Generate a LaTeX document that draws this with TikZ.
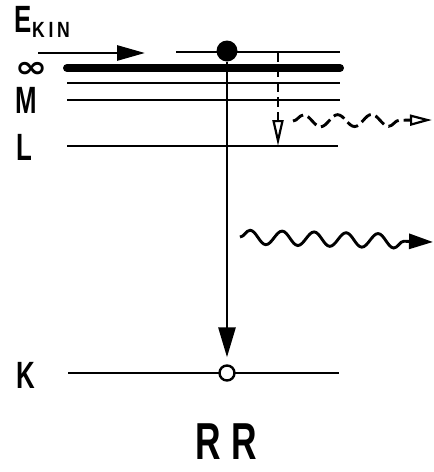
\documentclass[tikz,border=0pt]{standalone}
\usepackage{fontspec}
\usepackage{graphicx}
\setmainfont{Liberation Sans}[FakeStretch=0.68]
\newfontfamily\subfont{Liberation Sans}[FakeStretch=0.8]
\newfontfamily\symfont{DejaVu Sans}
\usetikzlibrary{arrows.meta,decorations.pathmorphing}
\begin{document}
\begin{tikzpicture}[x=1pt,y=-1pt,
  level/.style={line width=2.9pt},
  biglbl/.style={font=\bfseries\fontsize{38}{38}\selectfont, inner sep=0pt, anchor=base},
  wavy/.style={line width=2.9pt, decorate, decoration={snake, amplitude=7pt, segment length=32pt, post length=14pt}},
  ]
\useasboundingbox (0,0) rectangle (434,472);
% level end points
\coordinate (top-w) at (176,52);  \coordinate (top-e) at (340,52);
\coordinate (inf-w) at (67,68);   \coordinate (inf-e) at (340,68);
\coordinate (n2-w) at (67,83);    \coordinate (n2-e) at (340,83);
\coordinate (m-w) at (67,100);    \coordinate (m-e) at (340,100);
\coordinate (l-w) at (67,146);    \coordinate (l-e) at (338,146);
\coordinate (k-w) at (68,373);    \coordinate (k-e) at (339,373);
% levels
\draw[level] (top-w) -- (top-e);
\draw[line width=8pt, line cap=round] (inf-w) -- (inf-e);
\draw[level] (n2-w) -- (n2-e);
\draw[level] (m-w) -- (m-e);
\draw[level] (l-w) -- (l-e);
\draw[level] (k-w) -- (k-e);
% labels
\node[biglbl] (ekin) at (23.5,32) {E};
\node[font=\subfont\bfseries\fontsize{22}{22}\selectfont, inner sep=0pt, anchor=base west] (kin) at (32,37) {K\,I\,N};
\node[inner sep=0pt, font=\symfont\bfseries\fontsize{30}{30}\selectfont] (inf) at (31,70) {\scalebox{1.3}[1]{∞}};
\node[biglbl] (mlbl) at (26,113) {M};
\node[biglbl] (llbl) at (24.5,160) {L};
\node[biglbl] (klbl) at (26,388) {K};
\node[font=\bfseries\fontsize{52}{52}\selectfont, inner sep=0pt, anchor=base] (rr) at (226.5,459) {R\hspace{10pt}R};
% incoming electron
\coordinate (ein-s) at (38,53); \coordinate (ein-e) at (145,53);
\draw[level, -{Triangle[length=28pt,width=15pt]}] (ein-s) -- (ein-e);
\node[circle, fill, minimum size=21pt, inner sep=0pt] (el) at (227,51) {};
\node[circle, draw, fill=white, line width=2.4pt, minimum size=15pt, inner sep=0pt] (hole) at (227,373) {};
% direct transition
\draw[level, -{Triangle[length=30pt,width=17pt]}, shorten >=7pt] (el) -- (hole.north);
% cascade transition
\coordinate (dtop) at (278,52); \coordinate (dbot) at (278,146);
\draw[line width=2.5pt, dash pattern=on 10pt off 5pt, -{Triangle[open,length=26pt,width=11pt,line width=2.2pt]}] (dtop) -- (dbot);
% photons
\coordinate (p1s) at (293,121); \coordinate (p1e) at (432,120);
\draw[wavy, dash pattern=on 12pt off 5pt, decoration={amplitude=6pt, segment length=34pt, post length=32pt}, -{Triangle[open,length=22pt,width=11pt,line width=2.2pt]}] (p1s) -- (p1e);
\coordinate (p2s) at (240,237); \coordinate (p2e) at (433,242);
\draw[wavy, -{Triangle[length=24pt,width=15pt]}] (p2s) -- (p2e);
\end{tikzpicture}
\end{document}
